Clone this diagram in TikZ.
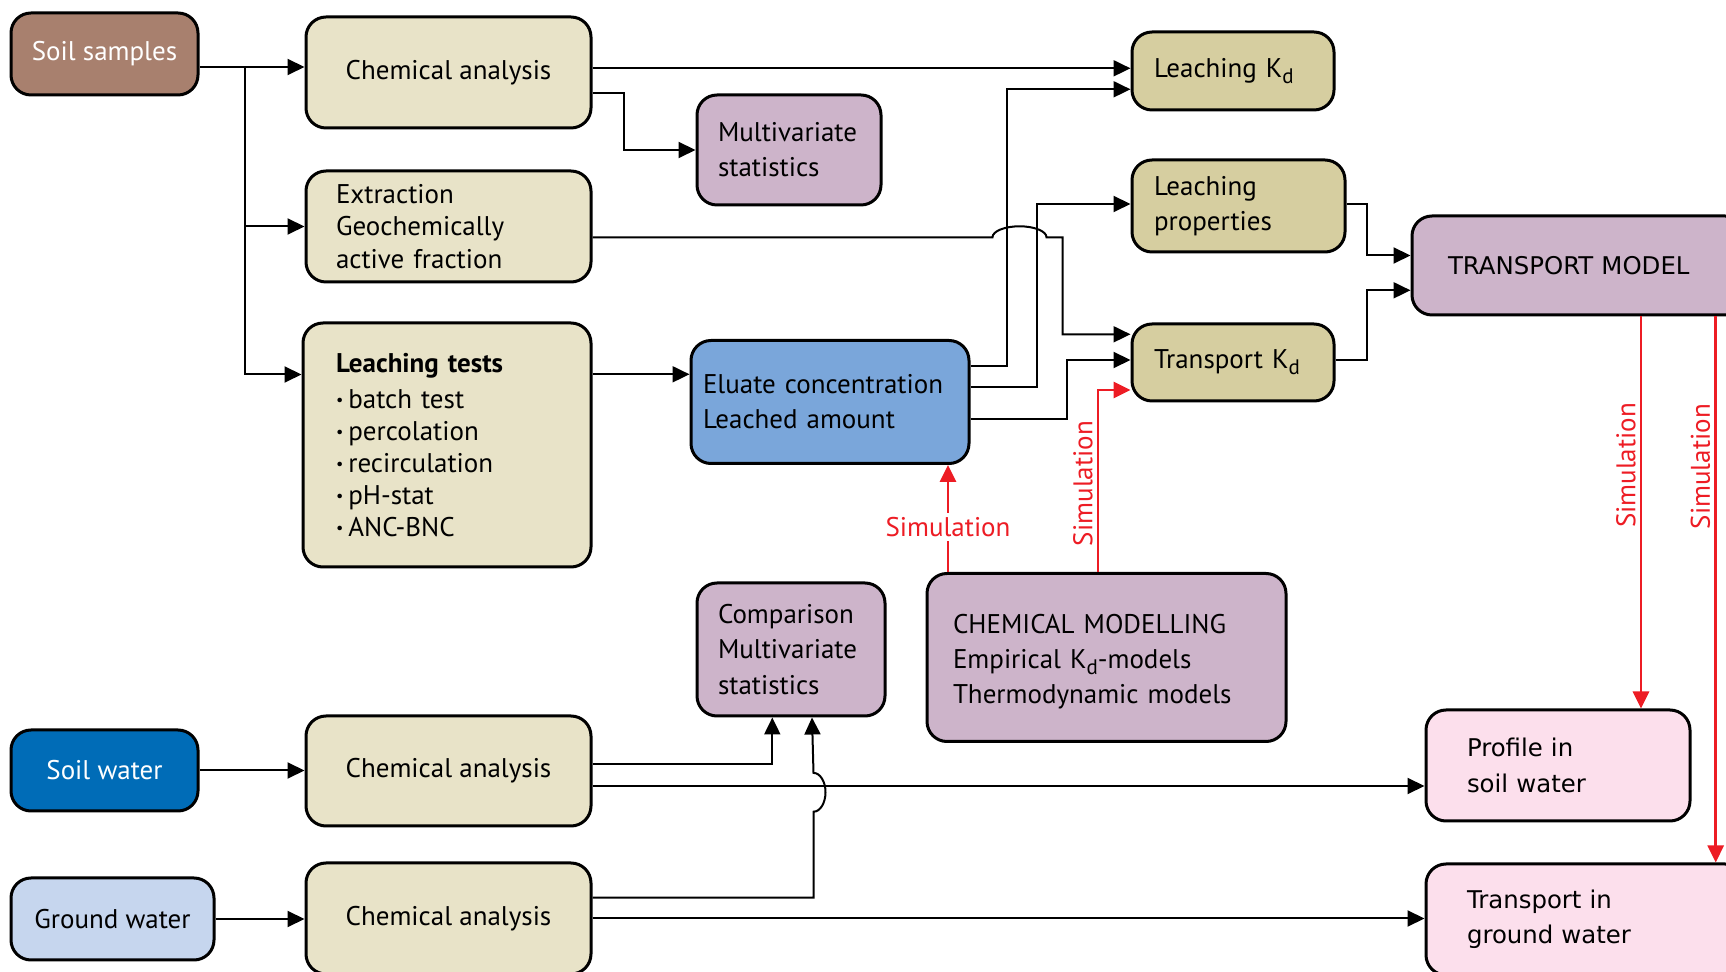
\documentclass[tikz,border=0pt]{standalone}
\usepackage{fontspec}
\usepackage{graphicx}
\setmainfont{PT Sans}
\newfontfamily\widefont{DejaVu Sans}
\usetikzlibrary{arrows.meta,calc}
\newcommand{\LINEPT}{1pt}
\newcommand{\BOXPT}{1.5pt}
\newcommand{\SIMPT}{1.4pt}
\newcommand{\BOXFONT}{\fontsize{13.5}{17.6}\selectfont\hyphenpenalty=10000}
\newcommand{\LISTFONT}{\fontsize{13.5}{16}\selectfont\hyphenpenalty=10000}
\newcommand{\WIDEFONT}{\widefont\fontsize{12.2}{17.6}\selectfont}
\newcommand{\KD}{K\raisebox{-0.45ex}{\fontsize{10.5}{10.5}\selectfont d}}
\newcommand{\BUL}{\raisebox{0.2ex}{\scalebox{0.6}{\textbullet}}\hspace{2.5pt}}
\definecolor{mybrown}{RGB}{168,128,110}
\definecolor{mybeige}{RGB}{232,227,200}
\definecolor{mykhaki}{RGB}{214,206,160}
\definecolor{mymauve}{RGB}{205,180,202}
\definecolor{myblue}{RGB}{122,166,218}
\definecolor{mydeepblue}{RGB}{0,108,183}
\definecolor{mylightblue}{RGB}{198,214,238}
\definecolor{mypink}{RGB}{252,223,236}
\definecolor{myred}{RGB}{237,28,36}
\tikzset{
	box/.style={draw=black, line width=\BOXPT, rounded corners=10pt, align=left, inner ysep=0pt, font=\BOXFONT},
	flow/.style={-{Triangle[length=8.5pt,width=8pt]}, line width=\LINEPT, color=black},
	sim/.style={-{Triangle[length=8.5pt,width=8pt]}, line width=\SIMPT, color=myred},
	simtext/.style={text=myred, font=\BOXFONT, inner sep=2pt},
}
\begin{document}
\begin{tikzpicture}[x=0.5pt,y=-0.5pt]

		\clip (0,0) rectangle (1726,972);

		%% soil samples branch
		\node[box, fill=mybrown, text=white, align=center, minimum width=93.5pt, minimum height=41pt] (soil) at (104.5,54) {Soil samples};
		\node[box, fill=mybeige, align=center, minimum width=142.5pt, minimum height=55.5pt] (chem1) at (448.5,72.5) {Chemical~analysis};
		\node[box, fill=mybeige, text width=112.5pt, inner xsep=15pt, minimum height=55.5pt, font=\fontsize{13.5}{16.2}\selectfont] (extr) at (448.5,226.5) {Extraction\\Geochemically\\active fraction};
		\node[box, fill=mybeige, text width=111pt, inner xsep=16.5pt, minimum height=122pt, font=\LISTFONT] (ltests) at (447,445) {\textbf{Leaching tests}\\[2pt]\BUL batch test\\\BUL percolation\\\BUL recirculation\\\BUL pH-stat\\\BUL ANC-BNC};
		\node[box, fill=mymauve, text width=71pt, inner xsep=10.5pt, minimum height=55pt] (mvs) at (789,150) {Multivariate\\statistics};
		\node[box, fill=myblue, text width=127pt, inner xsep=6pt, minimum height=61.5pt] (elu) at (830,402) {Eluate~concentration\\Leached~amount};

		%% K_d and transport model
		\node[box, fill=mykhaki, text width=79pt, inner xsep=11pt, minimum height=39pt] (lkd) at (1233,71) {Leaching~\KD};
		\node[box, fill=mykhaki, text width=84.5pt, inner xsep=11pt, minimum height=46pt] (lprop) at (1238.5,206) {Leaching\\properties};
		\node[box, fill=mykhaki, text width=79pt, inner xsep=11pt, minimum height=38.5pt] (tkd) at (1233,362.5) {Transport~\KD};
		\node[box, fill=mymauve, text width=130.5pt, inner xsep=18pt, minimum height=49.5pt, font=\WIDEFONT] (tmod) at (1578.5,265.5) {TRANSPORT~MODEL};
		\node[box, fill=mymauve, text width=153.5pt, inner xsep=13pt, minimum height=84pt] (cmod) at (1106.5,657.5) {\rule{0pt}{14pt}CHEMICAL~MODELLING\\Empirical~\KD-models\\Thermodynamic~models};
		\node[box, fill=mymauve, text width=73pt, inner xsep=10.5pt, minimum height=66.5pt] (cmp) at (791,649.5) {Comparison\\Multivariate\\statistics};

		%% water samples
		\node[box, fill=mydeepblue, text=white, align=center, minimum width=93.5pt, minimum height=40.5pt] (swat) at (104.5,770.5) {Soil water};
		\node[box, fill=mylightblue, align=center, minimum width=101.5pt, minimum height=41pt] (gwat) at (112.5,919) {Ground water};
		\node[box, fill=mybeige, align=center, minimum width=142.5pt, minimum height=55pt] (chem2) at (448.5,771) {Chemical~analysis};
		\node[box, fill=mybeige, align=center, minimum width=142.5pt, minimum height=55.5pt] (chem3) at (448.5,918.5) {Chemical~analysis};
		\node[box, fill=mypink, text width=91pt, inner xsep=20.5pt, minimum height=55.5pt, font=\WIDEFONT] (prof) at (1558,765.5) {Profile in\\soil water};
		\node[box, fill=mypink, text width=118.5pt, inner xsep=20.5pt, minimum height=55.5pt, font=\WIDEFONT] (tgw) at (1585.5,919.5) {Transport in\\ground water};

		%% connectors from the soil samples
		\coordinate (sb) at ([xshift=22.5pt,yshift=-6.5pt]soil.east);
		\draw[flow] ([yshift=-6.5pt]soil.east) -- ([yshift=-6.5pt]soil.east -| chem1.west);
		\draw[flow] (sb) |- (extr.west);
		\draw[flow] (sb) |- ([yshift=-26.5pt]ltests.north west);
		\draw[flow] ([yshift=2.1pt]chem1.east) -- ([yshift=2.1pt]chem1.east -| lkd.west);
		\draw[flow] ([yshift=-10.1pt]chem1.east) -- ++(15.5pt,0) |- (mvs.west);
		\draw[flow] ([yshift=35.35pt]ltests.east) -- ([yshift=35.35pt]ltests.east -| elu.west);

		%% eluate to the K_d boxes
		\draw[flow] ([yshift=18pt]elu.east) -- ++(18pt,0) |- ([yshift=-9.15pt]lkd.west);
		\draw[flow] ([yshift=7.35pt]elu.east) -- ++(33pt,0) |- ([yshift=1pt]lprop.west);
		\draw[flow] ([yshift=-8.65pt]elu.east) -- ++(48pt,0) |- ([yshift=1.25pt]tkd.west);
		\draw[flow] ([yshift=-5.4pt]extr.east) -- ++(200pt,0) arc[start angle=180, end angle=0, x radius=13.5pt, y radius=5.5pt] -- ++(8pt,0) |- ([yshift=14.1pt]tkd.west);
		\draw[flow] ([yshift=1.2pt]lprop.east) -- ++(10pt,0) |- ([yshift=5pt]tmod.west);
		\draw[flow] ([yshift=1.25pt]tkd.east) -- ++(15.5pt,0) |- ([yshift=-12.4pt]tmod.west);

		%% water samples
		\draw[flow] (swat.east) -- (swat.east -| chem2.west);
		\draw[flow] (gwat.east) -- (gwat.east -| chem3.west);
		\draw[flow] ([yshift=3.35pt]chem2.east) -| ([xshift=-9.35pt]cmp.south);
		\draw[flow] ([yshift=-7.5pt]chem2.east) -- ([yshift=-7.5pt]chem2.east -| prof.west);
		\draw[flow] ([yshift=10.4pt]chem3.east) -- ++(110.5pt,0) -- ++(0,43pt) arc[start angle=270, end angle=450, x radius=6pt, y radius=9.7pt] -- ([xshift=10.5pt]cmp.south);
		\draw[flow] (chem3.east) -- (chem3.east -| tgw.west);

		%% simulations
		\draw[sim] ([xshift=-79.25pt]cmod.north) -- ([xshift=59pt]elu.south) node[pos=0.42, simtext, fill=white] (sim1) {Simulation};
		\draw[sim] ([xshift=-4.25pt]cmod.north) |- ([yshift=-13.75pt]tkd.west) node[pos=0.243, simtext, rotate=90, anchor=south] (sim2) {Simulation};
		\draw[sim] ([xshift=31.25pt]tmod.south) -- ([xshift=41.5pt]prof.north) node[pos=0.38, simtext, rotate=90, anchor=south] (sim3) {Simulation};
		\draw[sim] ([xshift=68.6pt]tmod.south) -- ([xshift=65.1pt]tgw.north) node[pos=0.275, simtext, rotate=90, anchor=south] (sim4) {Simulation};

\end{tikzpicture}
\end{document}
